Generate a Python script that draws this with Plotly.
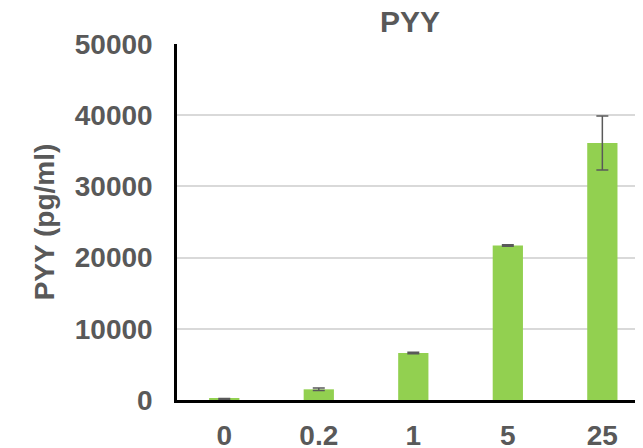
import plotly.graph_objects as go

categories = ["0", "0.2", "1", "5", "25"]
pyy_values = [150, 1500, 6600, 21700, 36100]
pyy_errors = [60, 180, 100, 120, 3800]
y_ticks = [0, 10000, 20000, 30000, 40000, 50000]

GRAY = "#595959"
FONT = "Liberation Sans, Arial, sans-serif"

fig = go.Figure()
fig.add_trace(go.Bar(
    x=categories,
    y=pyy_values,
    marker=dict(color="#92D050", line=dict(width=0)),
    width=0.32,
    error_y=dict(type="data", array=pyy_errors, visible=True,
                 color=GRAY, thickness=1.5, width=6),
))

# page body has an 8px default margin; figure drawn 635x440 to fill the window
fig.update_layout(
    width=635, height=440,
    margin=dict(l=169, r=0, t=36, b=48),
    paper_bgcolor="white", plot_bgcolor="white",
    showlegend=False,
    title=dict(text="<b>PYY</b>", x=(169 + 635) / 2 / 635, xanchor="center",
               y=1 - 24 / 440, yanchor="bottom", automargin=False,
               font=dict(family=FONT, size=30, color=GRAY)),
    font=dict(family=FONT, color=GRAY),
)
fig.update_xaxes(
    type="category", range=[-0.5, 4.43], automargin=False,
    showline=True, linecolor="black", linewidth=2.5,
    showgrid=False, ticks="",
    tickfont=dict(family=FONT, size=28, color=GRAY),
    ticklabelstandoff=9,
    tickprefix="<b>", ticksuffix="</b>",
)
fig.update_yaxes(
    range=[0, 50000], tickvals=y_ticks, automargin=False,
    ticktext=[f"<b>{v}</b>" for v in y_ticks],
    showline=True, linecolor="black", linewidth=2.5,
    showgrid=True, gridcolor="#D9D9D9", gridwidth=1.5,
    zeroline=False, ticks="",
    tickfont=dict(family=FONT, size=28, color=GRAY),
    ticklabelstandoff=16,
    title=dict(text="<b>PYY (pg/ml)</b>", standoff=12,
               font=dict(family=FONT, size=28, color=GRAY)),
)

fig.write_html("out.html")
